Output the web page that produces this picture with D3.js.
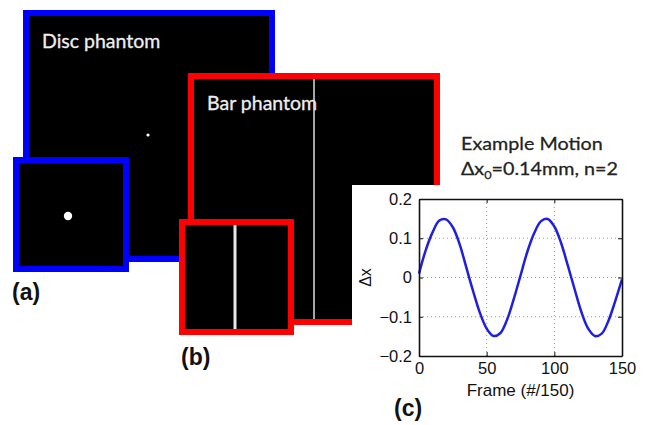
<!DOCTYPE html>
<html>
<head>
<meta charset="utf-8">
<script src="https://cdn.jsdelivr.net/npm/d3@7"></script>
<style>
  body { margin: 0; background: #fff; }
  svg { display: block; }
</style>
</head>
<body>
<div id="chart"></div>
<script>
// motion trace
const frames = [0, 5, 10, 15, 20, 25, 30, 35, 40, 45, 50, 55, 60, 65, 70, 75,
  80, 85, 90, 95, 100, 105, 110, 115, 120, 125, 130, 135, 140, 145, 150];
const dx = [0.01, 0.07, 0.115, 0.145, 0.148, 0.128, 0.085, 0.025, -0.035, -0.09,
  -0.13, -0.149, -0.142, -0.108, -0.055, 0.005, 0.065, 0.112, 0.143, 0.149,
  0.13, 0.088, 0.03, -0.03, -0.088, -0.13, -0.149, -0.143, -0.11, -0.06, -0.005];
const xTicks = [0, 50, 100, 150];
const yTicks = [-0.2, -0.1, 0, 0.1, 0.2];
const phantomNames = ["Disc phantom", "Bar phantom"];
const panelLabels = ["(a)", "(b)", "(c)"];

const width = 648;
const height = 425;

const svg = d3
  .select("#chart")
  .append("svg")
  .attr("width", width)
  .attr("height", height);

// phantom image frame: outer box, stroke drawn inside it
const frame = (x0, y0, x1, y1, color) => {
  const sw = 6;
  svg
    .append("rect")
    .attr("x", x0 + sw / 2)
    .attr("y", y0 + sw / 2)
    .attr("width", x1 - x0 - sw)
    .attr("height", y1 - y0 - sw)
    .attr("fill", "#000")
    .attr("stroke", color)
    .attr("stroke-width", sw);
};

const blur = svg.append("defs").append("filter").attr("id", "soft");
blur.append("feGaussianBlur").attr("stdDeviation", 0.6);

// (a) disc phantom
frame(23, 10, 275, 262, "#0000ff");
svg.append("text")
  .attr("x", 42).attr("y", 48)
  .attr("fill", "#eee")
  .attr("stroke", "#eee").attr("stroke-width", 0.3)
  .style("font", "19.5px Lato")
  .text(phantomNames[0]);
svg.append("circle")
  .attr("cx", 148).attr("cy", 135).attr("r", 1.6)
  .attr("fill", "#fff");
frame(13, 157, 129, 272, "#0000ff");
svg.append("circle")
  .attr("cx", 68).attr("cy", 216).attr("r", 4.2)
  .attr("fill", "#fff")
  .attr("filter", "url(#soft)");

// (b) bar phantom
frame(188, 73, 440, 325, "#ff0000");
svg.append("text")
  .attr("x", 207).attr("y", 110)
  .attr("fill", "#eee")
  .attr("stroke", "#eee").attr("stroke-width", 0.3)
  .style("font", "19.5px Lato")
  .text(phantomNames[1]);
svg.append("line")
  .attr("x1", 314).attr("x2", 314)
  .attr("y1", 79).attr("y2", 319)
  .attr("stroke", "#ddd")
  .attr("stroke-width", 1.5);
frame(179, 219, 294, 335, "#ff0000");
svg.append("line")
  .attr("x1", 235).attr("x2", 235)
  .attr("y1", 225).attr("y2", 329)
  .attr("stroke", "#e8e8e8")
  .attr("stroke-width", 3);

// (c) motion plot on white panel
svg.append("rect")
  .attr("x", 352).attr("y", 185)
  .attr("width", width - 352).attr("height", height - 185)
  .attr("fill", "#fff");

const title = svg.append("g")
  .attr("transform", "translate(461,0) scale(1.16,1)")
  .attr("fill", "#222")
  .attr("stroke", "#222").attr("stroke-width", 0.25)
  .style("font", "17px Lato");
title.append("text").attr("x", 0).attr("y", 150).text("Example Motion");
const t2 = title.append("text").attr("x", 0).attr("y", 175);
t2.append("tspan").text("Δx");
t2.append("tspan").attr("dy", 4).style("font-size", "11px").text("0");
t2.append("tspan").attr("dy", -4).text("=0.14mm, n=2");

const plot = { left: 419, right: 622, top: 199, bottom: 356 };

const x = d3.scaleLinear().domain([0, 150]).range([plot.left, plot.right]);
const y = d3.scaleLinear().domain([-0.2, 0.2]).range([plot.bottom, plot.top]);

const g = svg.append("g");

// dotted grid
g.selectAll(".gx")
  .data(xTicks.slice(1, -1))
  .enter()
  .append("line")
  .attr("x1", (d) => x(d)).attr("x2", (d) => x(d))
  .attr("y1", plot.top).attr("y2", plot.bottom)
  .attr("stroke", "#999")
  .attr("stroke-dasharray", "1,3");
g.selectAll(".gy")
  .data(yTicks.slice(1, -1))
  .enter()
  .append("line")
  .attr("x1", plot.left).attr("x2", plot.right)
  .attr("y1", (d) => y(d)).attr("y2", (d) => y(d))
  .attr("stroke", "#999")
  .attr("stroke-dasharray", "1,3");

const line = d3
  .line()
  .x((d, i) => x(frames[i]))
  .y((d) => y(d))
  .curve(d3.curveCatmullRom);

g.append("path")
  .datum(dx)
  .attr("d", line)
  .attr("fill", "none")
  .attr("stroke", "#1f1fe0")
  .attr("stroke-width", 2.5);

// axes, MATLAB style box with inward ticks
const fmt = (d) => (d < 0 ? "\u2212" + Math.abs(d) : String(d));

const xAxis = g.append("g")
  .attr("transform", `translate(0,${plot.bottom})`)
  .call(d3.axisBottom(x).tickValues(xTicks).tickSizeInner(-4).tickSizeOuter(0).tickPadding(6));
const yAxis = g.append("g")
  .attr("transform", `translate(${plot.left},0)`)
  .call(d3.axisLeft(y).tickValues(yTicks).tickFormat(fmt).tickSizeInner(-4).tickSizeOuter(0).tickPadding(7));
g.append("g")
  .attr("transform", `translate(0,${plot.top})`)
  .call(d3.axisTop(x).tickValues(xTicks).tickSizeInner(-4).tickSizeOuter(0).tickFormat(""));
g.append("g")
  .attr("transform", `translate(${plot.right},0)`)
  .call(d3.axisRight(y).tickValues(yTicks).tickSizeInner(-4).tickSizeOuter(0).tickFormat(""));

g.selectAll(".domain").attr("stroke", "#111").attr("stroke-width", 1.6);
g.selectAll(".tick line").attr("stroke", "#111");
[xAxis, yAxis].forEach((a) =>
  a.selectAll("text")
    .attr("fill", "#111")
    .style("font", "16.5px 'Liberation Sans', Arial, sans-serif"));
xAxis.selectAll("text").attr("dy", "0.71em");

g.append("text")
  .attr("x", (plot.left + plot.right) / 2)
  .attr("y", 396)
  .attr("text-anchor", "middle")
  .attr("fill", "#111")
  .style("font", "17px 'Liberation Sans', Arial, sans-serif")
  .text("Frame (#/150)");

g.append("text")
  .attr("transform", `translate(371,${y(0)}) rotate(-90)`)
  .attr("text-anchor", "middle")
  .attr("fill", "#111")
  .style("font", "16px 'Liberation Sans', Arial, sans-serif")
  .text("Δx");

// panel letters
const letterPos = [[12, 300], [181, 365], [394, 416]];
svg.selectAll(".panel")
  .data(panelLabels)
  .enter()
  .append("text")
  .attr("x", (d, i) => letterPos[i][0])
  .attr("y", (d, i) => letterPos[i][1])
  .attr("fill", "#111")
  .style("font", "bold 23px 'Liberation Sans', Arial, sans-serif")
  .text((d) => d);
</script>
</body>
</html>
